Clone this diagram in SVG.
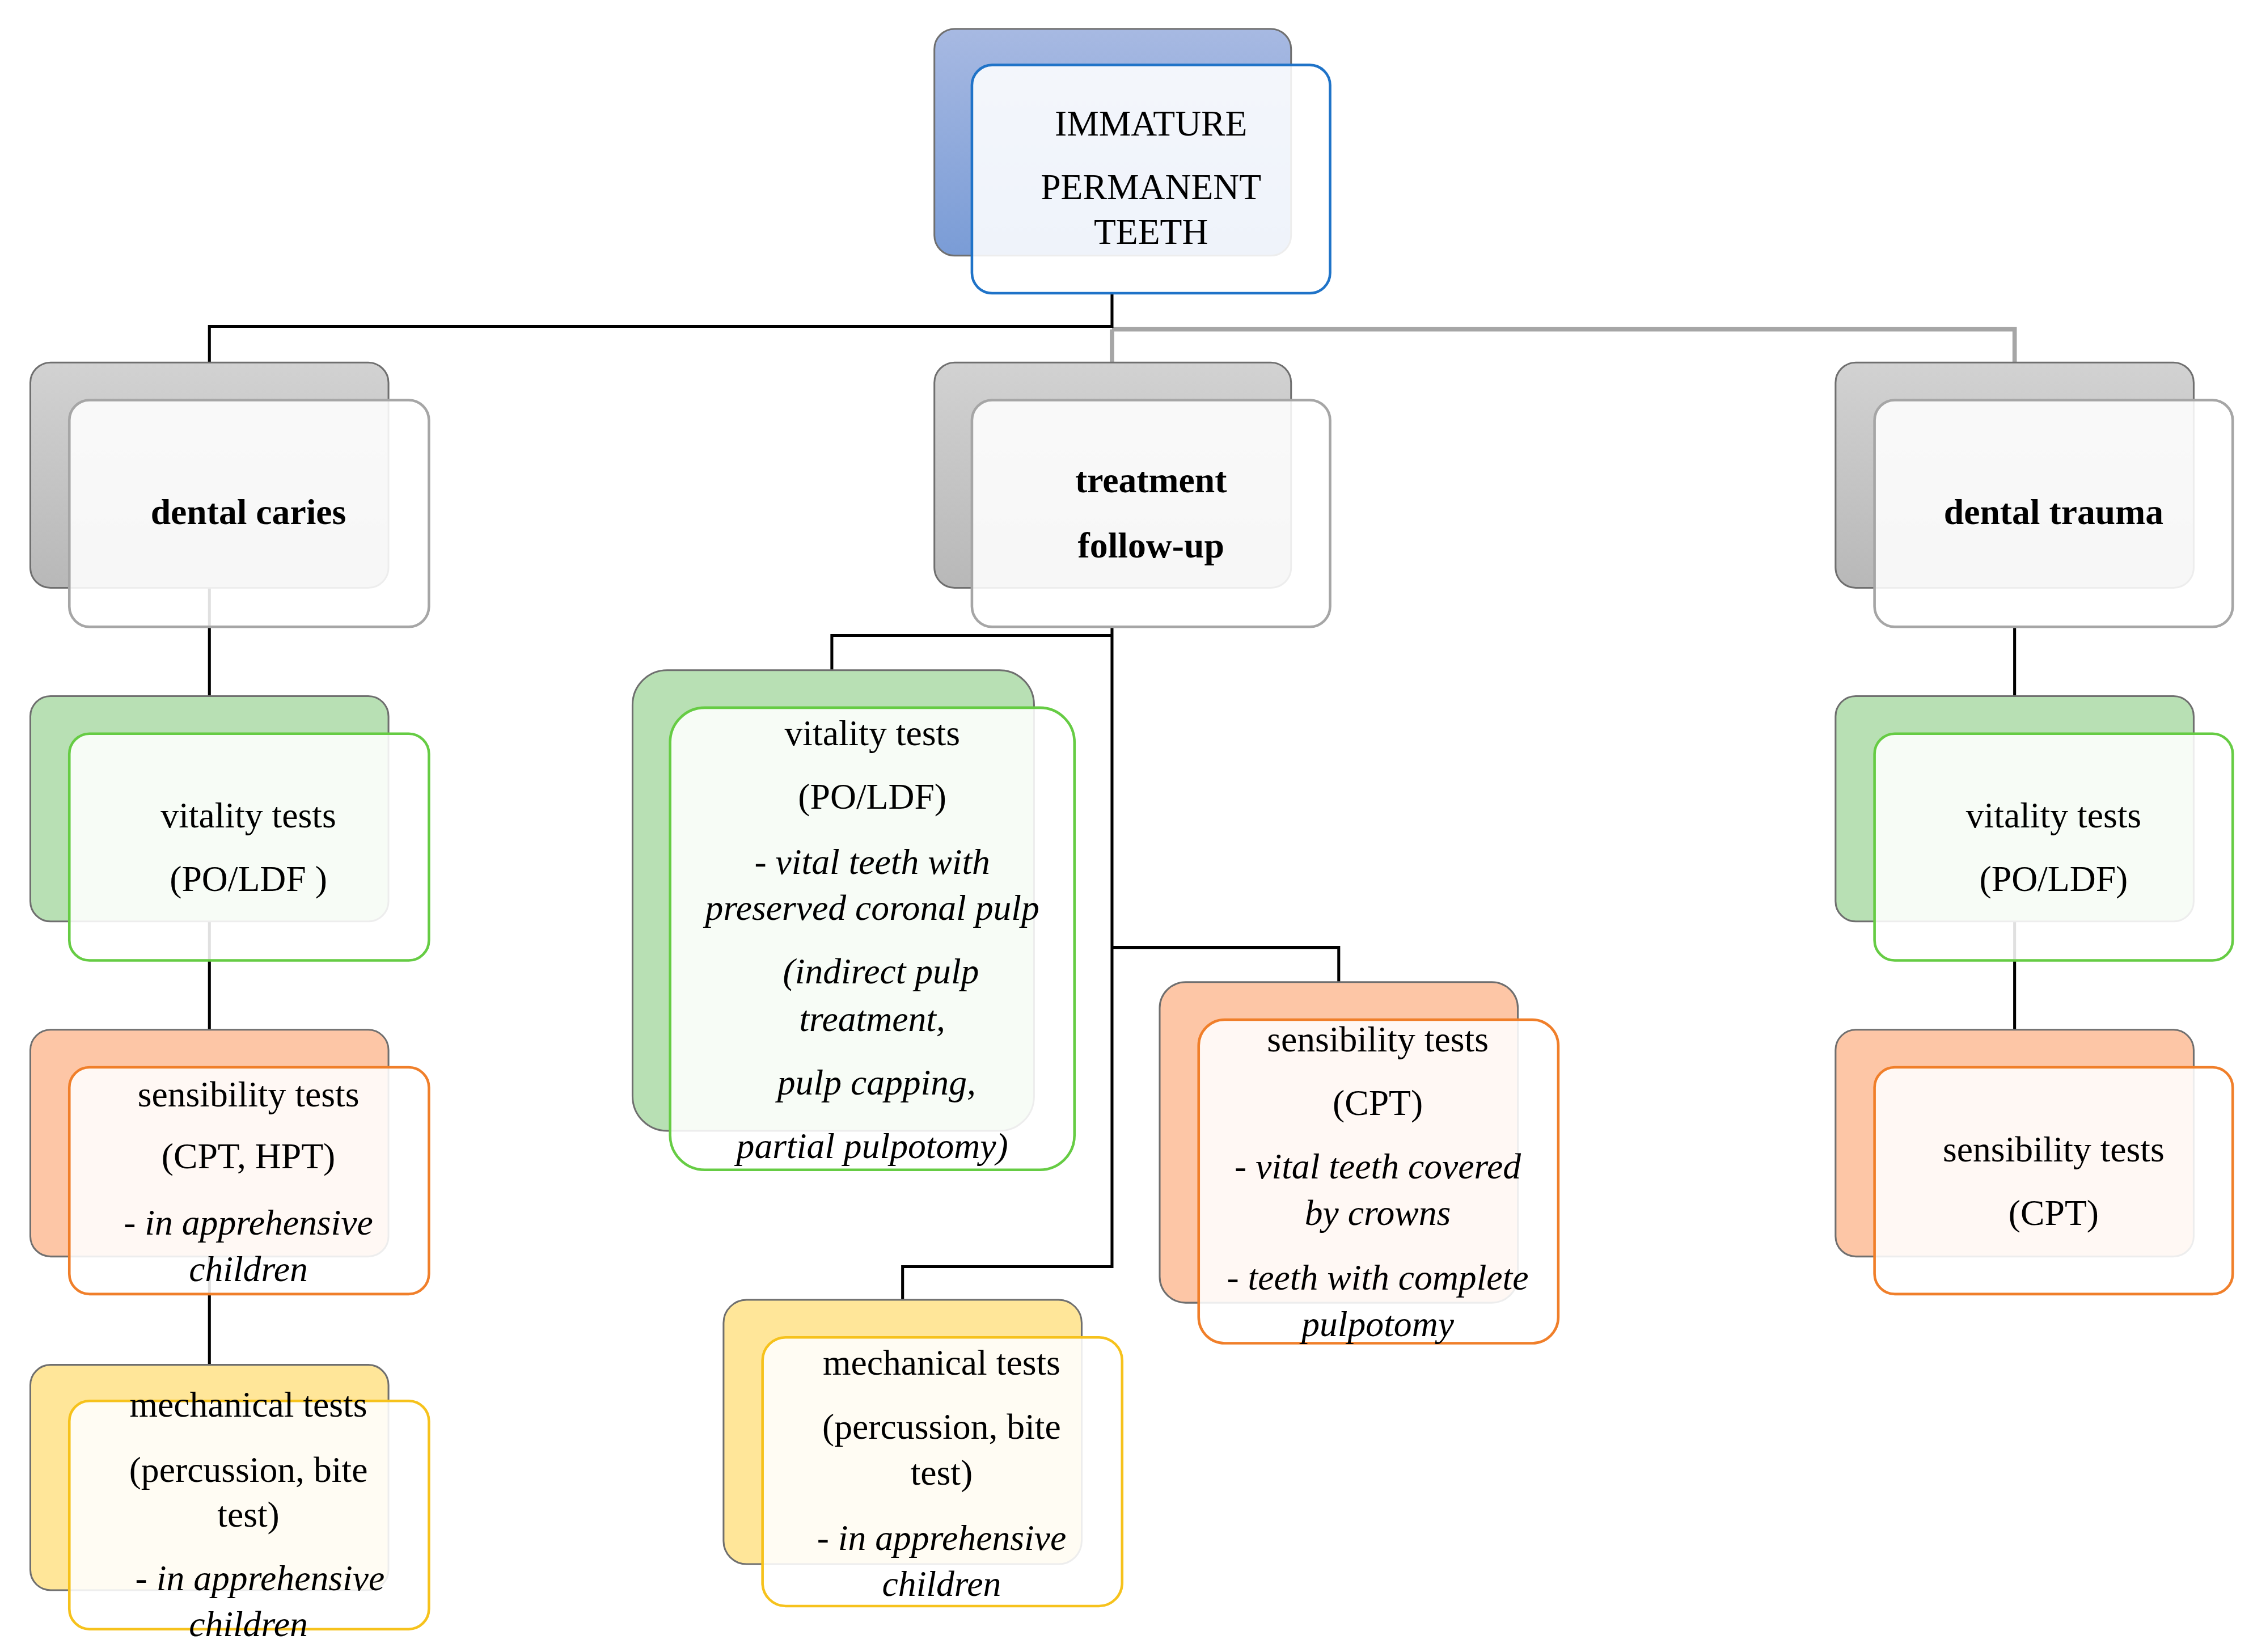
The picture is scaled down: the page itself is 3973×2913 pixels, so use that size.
<svg xmlns="http://www.w3.org/2000/svg" width="3973" height="2913" viewBox="0 0 3973 2913">
<defs>
<linearGradient id="gBlue" x1="0" y1="0" x2="0" y2="1"><stop offset="0" stop-color="#a7b9e2"/><stop offset="1" stop-color="#7a9cd6"/></linearGradient>
<linearGradient id="gGrey" x1="0" y1="0" x2="0" y2="1"><stop offset="0" stop-color="#d2d2d2"/><stop offset="1" stop-color="#b8b8b8"/></linearGradient>
<style>
.bk{stroke:#6f6f6f;stroke-width:1.2}
.fr{fill:#ffffff;fill-opacity:0.88;stroke-width:1.8}
.t{font-family:"Liberation Serif","Times New Roman",serif;font-size:25px;fill:#000;text-anchor:middle}
.b{font-weight:bold}
.i{font-style:italic}
.c{fill:none;stroke:#000;stroke-width:2}
.cg{fill:none;stroke:#a6a6a6;stroke-width:3}
</style>
</defs>
<rect width="3973" height="2913" fill="#fff"/>
<g transform="scale(2.5467)">
<g id="connectors">
<path class="cg" d="M770 228 H1395 V251 M770 228 V251"/>
<path class="c" d="M770 203 V226 H145 V251"/>
<path class="c" d="M145 407 V482 M145 638 V713 M145 870 V945"/>
<path class="c" d="M770 434 V877 H625 V900 M770 440 H576 V464 M770 656 H927 V680"/>
<path class="c" d="M1395 434 V482 M1395 638 V713"/>
</g>
<g id="root">
<rect class="bk" x="647" y="20" width="247" height="157" rx="14" fill="url(#gBlue)"/>
<rect class="fr" x="673" y="45" width="248" height="158" rx="14" stroke="#1f73c8"/>
<text class="t" x="797" y="94">IMMATURE</text>
<text class="t" x="797" y="138">PERMANENT</text>
<text class="t" x="797" y="169">TEETH</text>
</g>
<g id="caries">
<rect class="bk" x="21" y="251" width="248" height="156" rx="14" fill="url(#gGrey)"/>
<rect class="fr" x="48" y="277" width="249" height="157" rx="14" stroke="#a6a6a6"/>
<text class="t b" x="172" y="363">dental caries</text>
</g>
<g id="followup">
<rect class="bk" x="647" y="251" width="247" height="156" rx="14" fill="url(#gGrey)"/>
<rect class="fr" x="673" y="277" width="248" height="157" rx="14" stroke="#a6a6a6"/>
<text class="t b" x="797" y="341">treatment</text>
<text class="t b" x="797" y="386">follow-up</text>
</g>
<g id="trauma">
<rect class="bk" x="1271" y="251" width="248" height="156" rx="14" fill="url(#gGrey)"/>
<rect class="fr" x="1298" y="277" width="248" height="157" rx="14" stroke="#a6a6a6"/>
<text class="t b" x="1422" y="363">dental trauma</text>
</g>
<g id="vit-left">
<rect class="bk" x="21" y="482" width="248" height="156" rx="14" fill="#b8e0b4"/>
<rect class="fr" x="48" y="508" width="249" height="157" rx="14" stroke="#66cc44"/>
<text class="t" x="172" y="573">vitality tests</text>
<text class="t" x="172" y="617">(PO/LDF )</text>
</g>
<g id="sens-left">
<rect class="bk" x="21" y="713" width="248" height="157" rx="14" fill="#fdc6a6"/>
<rect class="fr" x="48" y="739" width="249" height="157" rx="14" stroke="#f07f2a"/>
<text class="t" x="172" y="766">sensibility tests</text>
<text class="t" x="172" y="809">(CPT, HPT)</text>
<text class="t i" x="172" y="855">- in apprehensive</text>
<text class="t i" x="172" y="887">children</text>
</g>
<g id="mech-left">
<rect class="bk" x="21" y="945" width="248" height="156" rx="14" fill="#ffe699"/>
<rect class="fr" x="48" y="970" width="249" height="158" rx="14" stroke="#f6c21c"/>
<text class="t" x="172" y="981">mechanical tests</text>
<text class="t" x="172" y="1026">(percussion, bite</text>
<text class="t" x="172" y="1057">test)</text>
<text class="t i" x="180" y="1101">- in apprehensive</text>
<text class="t i" x="172" y="1133">children</text>
</g>
<g id="vit-mid">
<rect class="bk" x="438" y="464" width="278" height="319" rx="24" fill="#b8e0b4"/>
<rect class="fr" x="464" y="490" width="280" height="320" rx="24" stroke="#66cc44"/>
<text class="t" x="604" y="516">vitality tests</text>
<text class="t" x="604" y="560">(PO/LDF)</text>
<text class="t i" x="604" y="605">- vital teeth with</text>
<text class="t i" x="604" y="637">preserved coronal pulp</text>
<text class="t i" x="610" y="681">(indirect pulp</text>
<text class="t i" x="604" y="714">treatment,</text>
<text class="t i" x="607" y="758">pulp capping,</text>
<text class="t i" x="604" y="802">partial pulpotomy)</text>
</g>
<g id="sens-mid">
<rect class="bk" x="803" y="680" width="248" height="222" rx="18" fill="#fdc6a6"/>
<rect class="fr" x="830" y="706" width="249" height="224" rx="18" stroke="#f07f2a"/>
<text class="t" x="954" y="728">sensibility tests</text>
<text class="t" x="954" y="772">(CPT)</text>
<text class="t i" x="954" y="816">- vital teeth covered</text>
<text class="t i" x="954" y="848">by crowns</text>
<text class="t i" x="954" y="893">- teeth with complete</text>
<text class="t i" x="954" y="925">pulpotomy</text>
</g>
<g id="mech-mid">
<rect class="bk" x="501" y="900" width="248" height="183" rx="16" fill="#ffe699"/>
<rect class="fr" x="528" y="926" width="249" height="186" rx="16" stroke="#f6c21c"/>
<text class="t" x="652" y="952">mechanical tests</text>
<text class="t" x="652" y="996">(percussion, bite</text>
<text class="t" x="652" y="1028">test)</text>
<text class="t i" x="652" y="1073">- in apprehensive</text>
<text class="t i" x="652" y="1105">children</text>
</g>
<g id="vit-right">
<rect class="bk" x="1271" y="482" width="248" height="156" rx="14" fill="#b8e0b4"/>
<rect class="fr" x="1298" y="508" width="248" height="157" rx="14" stroke="#66cc44"/>
<text class="t" x="1422" y="573">vitality tests</text>
<text class="t" x="1422" y="617">(PO/LDF)</text>
</g>
<g id="sens-right">
<rect class="bk" x="1271" y="713" width="248" height="157" rx="14" fill="#fdc6a6"/>
<rect class="fr" x="1298" y="739" width="248" height="157" rx="14" stroke="#f07f2a"/>
<text class="t" x="1422" y="804">sensibility tests</text>
<text class="t" x="1422" y="848">(CPT)</text>
</g>
</g>
</svg>
